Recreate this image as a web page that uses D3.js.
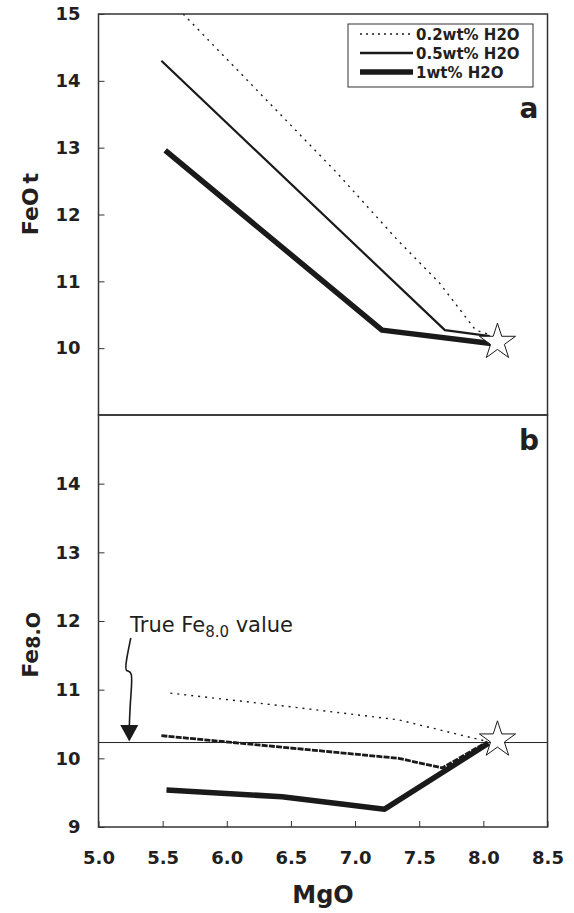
<!DOCTYPE html>
<html>
<head>
	<title>FeO vs MgO, water content</title>
	<script src="https://d3js.org/d3.v7.min.js" charset="utf-8"></script>
	<style>
		body { margin: 0; background: #fff; }
		text { font-family: "DejaVu Sans", Verdana, sans-serif; fill: #231f20; }
	</style>
</head>
<body>
<div id="content"></div>

<script type="text/javascript">
	// ticks
	var mgoTicks = [5.0, 5.5, 6.0, 6.5, 7.0, 7.5, 8.0, 8.5];
	var feTicksA = [10, 11, 12, 13, 14, 15];
	var feTicksB = [9, 10, 11, 12, 13, 14];

	// panel a: FeOt vs MgO
	var aMgO02 = [5.66, 6.86, 7.33, 7.66, 7.94, 8.05];
	var aFe02  = [15.0, 12.62, 11.62, 10.97, 10.27, 10.2];
	var aMgO05 = [5.49, 7.70, 8.05];
	var aFe05  = [14.30, 10.27, 10.18];
	var aMgO1  = [5.52, 7.21, 8.06];
	var aFe1   = [12.96, 10.27, 10.07];

	// panel b: Fe8.0 vs MgO
	var bMgO02 = [5.56, 6.5, 7.34, 8.02];
	var bFe02  = [10.95, 10.75, 10.56, 10.25];
	var bMgO05 = [5.49, 7.34, 7.68, 8.03];
	var bFe05  = [10.33, 10.0, 9.86, 10.24];
	var bMgO1  = [5.53, 6.43, 7.23, 8.04];
	var bFe1   = [9.54, 9.44, 9.26, 10.22];

	// parental melt (star) and the true Fe8.0 value
	var starMgO = 8.11;
	var starFeA = 10.09;
	var starFeB = 10.27;
	var trueFe8 = 10.23;

	var seriesNames = ['0.2wt% H2O', '0.5wt% H2O', '1wt% H2O'];

	var styles = [
		{ width: 1.4, dash: '2,5' },
		{ width: 2.2, dash: null },
		{ width: 5.5, dash: null }
	];

	var W = 574, H = 913;
	var left = 98.5, right = 547.5;
	var aTop = 14, mid = 415, bBot = 827;

	var svg = d3.select('#content')
		.append('svg')
		.attr('width', W)
		.attr('height', H);

	var x = d3.scaleLinear().domain([5.0, 8.5]).range([left, right]);
	var yA = d3.scaleLinear().domain([9, 15]).range([mid, aTop]);
	var yB = d3.scaleLinear().domain([9, 15]).range([bBot, mid]);

	svg.append('clipPath').attr('id', 'clipA')
		.append('rect').attr('x', left).attr('y', aTop).attr('width', right - left).attr('height', mid - aTop);

	function zip(xs, ys) { return xs.map((v, i) => [v, ys[i]]); }

	function drawSeries(y, sets, clip, panelB) {
		var line = d3.line().x(d => x(d[0])).y(d => y(d[1]));
		var g = svg.append('g').attr('clip-path', clip ? 'url(#' + clip + ')' : null);
		sets.forEach((pts, i) => {
			// in panel b the 0.5wt% curve is printed heavier, with tiny breaks
			var w = (panelB && i === 1) ? 2.8 : styles[i].width;
			var dash = (panelB && i === 1) ? '6,1.2' : styles[i].dash;
			g.append('path')
				.attr('d', line(pts))
				.attr('fill', 'none')
				.attr('stroke', '#1a1a1a')
				.attr('stroke-width', w)
				.attr('stroke-dasharray', dash)
				.attr('stroke-linejoin', 'round');
		});
	}

	drawSeries(yA, [zip(aMgO02, aFe02), zip(aMgO05, aFe05), zip(aMgO1, aFe1)], 'clipA', false);

	// true Fe8.0 reference line
	svg.append('line')
		.attr('x1', left).attr('x2', right)
		.attr('y1', yB(trueFe8)).attr('y2', yB(trueFe8))
		.attr('stroke', '#222').attr('stroke-width', 1);

	drawSeries(yB, [zip(bMgO02, bFe02), zip(bMgO05, bFe05), zip(bMgO1, bFe1)], null, true);

	// stars
	var star = d3.symbol().type(d3.symbolStar).size(405);
	[[starMgO, yA(starFeA)], [starMgO, yB(starFeB)]].forEach(p => {
		svg.append('path')
			.attr('d', star())
			.attr('transform', 'translate(' + x(p[0]) + ',' + p[1] + ')')
			.attr('fill', '#fff')
			.attr('stroke', '#1a1a1a')
			.attr('stroke-width', 1);
	});

	// axes (ticks pointing inward)
	var axA = svg.append('g').attr('transform', 'translate(' + left + ',0)')
		.call(d3.axisLeft(yA).tickValues(feTicksA).tickFormat(d3.format('d')).tickSize(-6).tickPadding(18));
	var axB = svg.append('g').attr('transform', 'translate(' + left + ',0)')
		.call(d3.axisLeft(yB).tickValues(feTicksB).tickFormat(d3.format('d')).tickSize(-6).tickPadding(18));
	var axX = svg.append('g').attr('transform', 'translate(0,' + bBot + ')')
		.call(d3.axisBottom(x).tickValues(mgoTicks).tickFormat(d3.format('.1f')).tickSize(-6).tickPadding(24));

	[axA, axB, axX].forEach(ax => {
		ax.select('.domain').remove();
		ax.selectAll('.tick line').attr('stroke', '#333');
		ax.selectAll('.tick text')
			.attr('font-family', '"DejaVu Sans", Verdana, sans-serif')
			.attr('font-size', 18)
			.attr('font-weight', 'bold')
			.attr('fill', '#231f20');
	});

	// panel frames
	[[aTop, mid], [mid, bBot]].forEach(b => {
		svg.append('rect')
			.attr('x', left).attr('y', b[0])
			.attr('width', right - left).attr('height', b[1] - b[0])
			.attr('fill', 'none').attr('stroke', '#333').attr('stroke-width', 1.5);
	});

	// panel letters
	svg.append('text').attr('x', 529).attr('y', 118).attr('text-anchor', 'middle')
		.attr('font-size', 28).attr('font-weight', 'bold').text('a');
	svg.append('text').attr('x', 529).attr('y', 450).attr('text-anchor', 'middle')
		.attr('font-size', 28).attr('font-weight', 'bold').text('b');

	// axis titles
	var tA = svg.append('text')
		.attr('transform', 'translate(38,204) rotate(-90)')
		.attr('text-anchor', 'middle')
		.attr('font-size', 22).attr('font-weight', 'bold');
	tA.append('tspan').text('FeO');
	tA.append('tspan').attr('dx', 4).text('t');

	var tB = svg.append('text')
		.attr('transform', 'translate(38,645) rotate(-90)')
		.attr('text-anchor', 'middle')
		.attr('font-size', 22).attr('font-weight', 'bold');
	tB.append('tspan').text('Fe');
	tB.append('tspan').attr('font-size', 19).attr('dy', 2).text('8.O');

	svg.append('text').attr('x', (left + right) / 2).attr('y', 903).attr('text-anchor', 'middle')
		.attr('font-size', 24).attr('font-weight', 'bold').text('MgO');

	// legend
	var lg = svg.append('g');
	lg.append('rect').attr('x', 348).attr('y', 24).attr('width', 185).attr('height', 63)
		.attr('fill', '#fff').attr('stroke', '#333').attr('stroke-width', 1);
	seriesNames.forEach((name, i) => {
		var yy = 34 + i * 19;
		lg.append('line').attr('x1', 360).attr('x2', 413).attr('y1', yy).attr('y2', yy)
			.attr('stroke', '#1a1a1a')
			.attr('stroke-width', i === 2 ? 5.5 : styles[i].width + 0.2)
			.attr('stroke-dasharray', styles[i].dash ? '2,4' : null);
		lg.append('text').attr('x', 416).attr('y', yy + 5.5)
			.attr('font-size', 15).attr('font-weight', 'bold').text(name);
	});

	// annotation for the true Fe8.0 value
	var note = svg.append('text').attr('x', 130).attr('y', 632).attr('font-size', 21);
	note.append('tspan').text('True Fe');
	note.append('tspan').attr('font-size', 15).attr('dy', 5).text('8.0');
	note.append('tspan').attr('dy', -5).text(' value');

	var ax0 = 5.24;
	var squiggle = d3.line().curve(d3.curveBasis);
	svg.append('path')
		.attr('d', squiggle([
			[x(ax0) + 1.5, 638], [x(ax0) - 3, 660], [x(ax0) - 4.5, 673], [x(ax0) + 4, 669], [x(ax0) + 1, 700], [x(ax0), 727]
		]))
		.attr('fill', 'none').attr('stroke', '#1a1a1a').attr('stroke-width', 1.6);
	svg.append('path')
		.attr('d', d3.line()([[x(ax0) - 9, 725], [x(ax0) + 9, 725], [x(ax0), yB(trueFe8) - 1]]) + 'Z')
		.attr('fill', '#1a1a1a');
</script>
</body>
</html>
